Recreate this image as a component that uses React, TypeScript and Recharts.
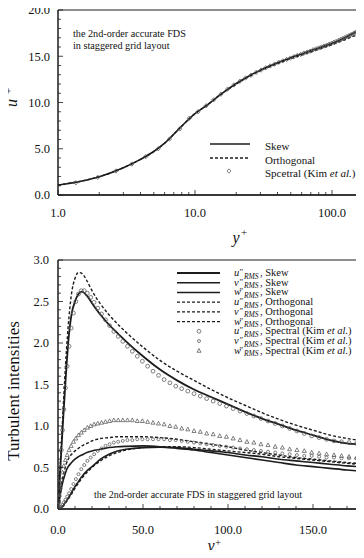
import React from 'react';
import { ComposedChart, Line, Scatter, XAxis, YAxis, ReferenceArea } from 'recharts';

const serif = '"Liberation Serif", "Times New Roman", serif';
const ink = '#1c1c1c';

// ---------- top panel: u+ against y+ (log axis) ----------
const topLineYPlus = [1, 1.5, 2, 3, 4, 5, 6, 8, 10, 12, 15, 20, 25, 30, 40, 50, 60, 80, 100, 120, 140, 160, 180];
const topSkew = [1.08, 1.52, 1.98, 2.95, 3.85, 4.7, 5.6, 7.45, 8.8, 9.62, 10.75, 12.05, 12.9, 13.5, 14.3, 14.85, 15.25, 15.9, 16.4, 16.9, 17.4, 17.8, 18.15];
const topOrtho = [1.08, 1.52, 1.98, 2.95, 3.85, 4.7, 5.6, 7.45, 8.8, 9.62, 10.75, 12.0, 12.85, 13.45, 14.2, 14.75, 15.12, 15.75, 16.25, 16.7, 17.1, 17.38, 17.6];

// Kim et al. grid points (y+) shared by both panels
const kimYPlus = [0.05, 0.22, 0.49, 0.87, 1.35, 1.95, 2.65, 3.46, 4.37, 5.39, 6.52, 7.75, 9.08, 10.52, 12.06, 13.7, 15.44, 17.28, 19.22, 21.25, 23.38, 25.61, 27.93, 30.34, 32.84, 35.42, 38.1, 40.86, 43.7, 46.63, 49.64, 52.72, 55.88, 59.12, 62.43, 65.81, 69.26, 72.77, 76.35, 80, 83.7, 87.46, 91.28, 95.15, 99.07, 103.04, 107.06, 111.12, 115.22, 119.36, 123.54, 127.75, 131.99, 136.26, 140.56, 144.88, 149.23, 153.59, 157.97, 162.36, 166.76, 171.17, 175.58, 180];
const kimUPlus = [0.05, 0.22, 0.49, 0.87, 1.33, 1.91, 2.6, 3.35, 4.15, 5.0, 6.05, 7.15, 8.3, 9.0, 9.65, 10.3, 10.9, 11.45, 11.9, 12.3, 12.65, 12.95, 13.25, 13.5, 13.75, 13.95, 14.15, 14.35, 14.5, 14.65, 14.8, 14.95, 15.1, 15.2, 15.35, 15.45, 15.55, 15.7, 15.8, 15.9, 16.0, 16.1, 16.2, 16.3, 16.4, 16.5, 16.6, 16.7, 16.8, 16.9, 17.0, 17.1, 17.2, 17.3, 17.4, 17.5, 17.6, 17.65, 17.75, 17.85, 17.9, 18.0, 18.05, 18.1];

const topXTicks = [1, 2, 3, 4, 5, 6, 7, 8, 9, 10, 20, 30, 40, 50, 60, 70, 80, 90, 100];
const topXMajor = [1, 10, 100];
const topYTicks = [0, 1, 2, 3, 4, 5, 6, 7, 8, 9, 10, 11, 12, 13, 14, 15, 16, 17, 18, 19, 20];
const topYMajor = [0, 5, 10, 15, 20];

// ---------- bottom panel: turbulent intensities ----------
const lineYPlus = [0, 1, 2, 3, 4, 5, 6, 8, 10, 12, 14, 17, 20, 25, 30, 35, 40, 50, 60, 70, 80, 90, 100, 110, 120, 130, 140, 150, 160, 170, 176];
const uSkew = [0, 0.36, 0.72, 1.07, 1.4, 1.72, 2.0, 2.35, 2.5, 2.59, 2.62, 2.57, 2.48, 2.34, 2.22, 2.12, 2.02, 1.84, 1.68, 1.55, 1.44, 1.35, 1.26, 1.17, 1.09, 1.02, 0.95, 0.89, 0.83, 0.79, 0.78];
const vSkew = [0, 0.01, 0.02, 0.04, 0.07, 0.1, 0.13, 0.2, 0.27, 0.33, 0.39, 0.46, 0.51, 0.6, 0.66, 0.7, 0.72, 0.74, 0.745, 0.74, 0.72, 0.7, 0.68, 0.65, 0.63, 0.6, 0.58, 0.56, 0.54, 0.52, 0.51];
const wSkew = [0, 0.13, 0.25, 0.34, 0.41, 0.47, 0.51, 0.56, 0.6, 0.63, 0.65, 0.68, 0.7, 0.72, 0.74, 0.75, 0.755, 0.76, 0.75, 0.73, 0.71, 0.68, 0.65, 0.62, 0.59, 0.56, 0.53, 0.51, 0.49, 0.47, 0.46];
const uOrtho = [0, 0.4, 0.8, 1.2, 1.58, 1.92, 2.2, 2.6, 2.78, 2.85, 2.84, 2.75, 2.63, 2.47, 2.34, 2.23, 2.13, 1.95, 1.79, 1.66, 1.55, 1.44, 1.34, 1.25, 1.16, 1.08, 1.01, 0.95, 0.89, 0.85, 0.83];
const vOrtho = [0, 0.01, 0.02, 0.03, 0.06, 0.09, 0.12, 0.18, 0.25, 0.31, 0.37, 0.44, 0.5, 0.58, 0.64, 0.68, 0.71, 0.74, 0.75, 0.75, 0.74, 0.72, 0.7, 0.68, 0.66, 0.63, 0.61, 0.59, 0.57, 0.55, 0.54];
const wOrtho = [0, 0.15, 0.29, 0.4, 0.48, 0.55, 0.6, 0.66, 0.7, 0.73, 0.76, 0.79, 0.82, 0.85, 0.86, 0.87, 0.87, 0.87, 0.86, 0.84, 0.81, 0.78, 0.75, 0.71, 0.68, 0.65, 0.62, 0.6, 0.58, 0.56, 0.55];

const kimU = [0.02, 0.08, 0.18, 0.32, 0.5, 0.71, 0.95, 1.2, 1.46, 1.72, 1.96, 2.18, 2.36, 2.5, 2.59, 2.63, 2.63, 2.6, 2.55, 2.49, 2.42, 2.35, 2.28, 2.21, 2.14, 2.08, 2.02, 1.96, 1.9, 1.84, 1.78, 1.72, 1.66, 1.61, 1.56, 1.52, 1.48, 1.45, 1.42, 1.39, 1.36, 1.33, 1.3, 1.27, 1.24, 1.21, 1.18, 1.15, 1.12, 1.09, 1.06, 1.03, 1.0, 0.97, 0.94, 0.91, 0.88, 0.86, 0.84, 0.82, 0.81, 0.8, 0.79, 0.79];
const kimV = [0, 0, 0.01, 0.01, 0.02, 0.03, 0.05, 0.08, 0.11, 0.15, 0.19, 0.24, 0.3, 0.36, 0.42, 0.48, 0.53, 0.58, 0.62, 0.66, 0.7, 0.73, 0.76, 0.78, 0.8, 0.81, 0.82, 0.83, 0.83, 0.84, 0.84, 0.84, 0.84, 0.84, 0.84, 0.83, 0.83, 0.82, 0.81, 0.8, 0.79, 0.78, 0.77, 0.76, 0.75, 0.74, 0.73, 0.72, 0.71, 0.7, 0.69, 0.68, 0.67, 0.66, 0.65, 0.64, 0.64, 0.63, 0.62, 0.62, 0.61, 0.61, 0.61, 0.61];
const kimW = [0.01, 0.04, 0.09, 0.17, 0.26, 0.35, 0.44, 0.52, 0.59, 0.65, 0.71, 0.76, 0.81, 0.85, 0.89, 0.92, 0.95, 0.98, 1.0, 1.02, 1.03, 1.04, 1.05, 1.06, 1.07, 1.07, 1.07, 1.07, 1.07, 1.06, 1.06, 1.05, 1.04, 1.03, 1.02, 1.0, 0.99, 0.97, 0.96, 0.94, 0.93, 0.91, 0.9, 0.88, 0.87, 0.85, 0.83, 0.81, 0.8, 0.78, 0.77, 0.75, 0.74, 0.72, 0.71, 0.7, 0.68, 0.67, 0.66, 0.65, 0.64, 0.63, 0.62, 0.62];

const botXTicks = [0, 10, 20, 30, 40, 50, 60, 70, 80, 90, 100, 110, 120, 130, 140, 150, 160, 170];
const botXMajor = [0, 50, 100, 150];
const botYTicks = [0, 0.1, 0.2, 0.3, 0.4, 0.5, 0.6, 0.7, 0.8, 0.9, 1, 1.1, 1.2, 1.3, 1.4, 1.5, 1.6, 1.7, 1.8, 1.9, 2, 2.1, 2.2, 2.3, 2.4, 2.5, 2.6, 2.7, 2.8, 2.9, 3];
const botYMajor = [0, 0.5, 1, 1.5, 2, 2.5, 3];

const pairs = (xs: number[], ys: number[]) => xs.map((x, i) => ({ x, y: ys[i] }));

const topKim = pairs(kimYPlus, kimUPlus).filter((p) => p.x >= 1);

// ticks drawn inward from the axis line
const makeXTick = (majors: number[], dy: number) => (props: any) => {
  const { x, y, payload } = props;
  const major = majors.includes(payload.value);
  return (
    <g>
      <line x1={x} x2={x} y1={y} y2={y - (major ? 5 : 3)} stroke={ink} strokeWidth={0.8} />
      {major && (
        <text x={x} y={y + dy} textAnchor="middle" fontSize={12.5} fontFamily={serif} fill="#111">
          {payload.value.toFixed(1)}
        </text>
      )}
    </g>
  );
};

const makeYTick = (majors: number[], dx: number) => (props: any) => {
  const { x, y, payload } = props;
  const major = majors.includes(payload.value);
  return (
    <g>
      <line x1={x} x2={x + (major ? 5 : 3)} y1={y} y2={y} stroke={ink} strokeWidth={0.8} />
      {major && (
        <text x={x - dx} y={y} dy="0.35em" textAnchor="end" fontSize={12.5} fontFamily={serif} fill="#111">
          {payload.value.toFixed(1)}
        </text>
      )}
    </g>
  );
};

const Ring = (r: number) => (p: any) => (
  <circle cx={p.cx} cy={p.cy} r={r} fill="none" stroke="#555" strokeWidth={0.75} />
);
const Tri = (p: any) => (
  <path d={`M${p.cx},${p.cy - 2.2} L${p.cx + 2},${p.cy + 1.5} L${p.cx - 2},${p.cy + 1.5} Z`} fill="none" stroke="#555" strokeWidth={0.75} />
);
const Diamond = (p: any) => (
  <path d={`M${p.cx},${p.cy - 2.2} L${p.cx + 2},${p.cy} L${p.cx},${p.cy + 2.2} L${p.cx - 2},${p.cy} Z`} fill="none" stroke="#555" strokeWidth={0.75} />
);

const legendRows = [
  { c: 'u', name: 'Skew', dash: '', w: 2.2 },
  { c: 'v', name: 'Skew', dash: '', w: 1.5 },
  { c: 'w', name: 'Skew', dash: '', w: 1.5 },
  { c: 'u', name: 'Orthogonal', dash: '3 2', w: 1.4 },
  { c: 'v', name: 'Orthogonal', dash: '3 2', w: 1.4 },
  { c: 'w', name: 'Orthogonal', dash: '3 2', w: 1.4 },
  { c: 'u', name: 'Spectral', dash: 'm', w: 0 },
  { c: 'v', name: 'Spectral', dash: 'm', w: 0 },
  { c: 'w', name: 'Spectral', dash: 'm', w: 0 },
];

export default function App() {
  return (
    <div style={{ position: 'relative', width: 364, height: 558, margin: -8, overflow: 'hidden', background: '#fff', fontFamily: serif }}>
      <div style={{ position: 'absolute', left: 0, top: 0 }}>
        <ComposedChart width={367} height={230} margin={{ top: 10, right: 0, bottom: 0, left: 0 }}>
          <XAxis dataKey="x" type="number" scale="log" domain={[1, 180]} ticks={topXTicks} interval={0}
            tick={makeXTick(topXMajor, 22)} tickLine={false} tickSize={0} tickMargin={0} height={35}
            axisLine={{ stroke: ink, strokeWidth: 1.3 }} allowDataOverflow />
          <YAxis type="number" domain={[0, 20]} ticks={topYTicks} interval={0} width={58}
            tick={makeYTick(topYMajor, 8)} tickLine={false} tickSize={0} tickMargin={0}
            axisLine={{ stroke: ink }} allowDataOverflow />
          <ReferenceArea x1={1} x2={180} y1={0} y2={20} fill="none" stroke={ink} strokeWidth={1} ifOverflow="visible" />
          <Line data={pairs(topLineYPlus, topOrtho)} dataKey="y" type="monotone" stroke={ink} strokeWidth={1.4}
            strokeDasharray="3 2" dot={false} isAnimationActive={false} />
          <Line data={pairs(topLineYPlus, topSkew)} dataKey="y" type="monotone" stroke={ink} strokeWidth={1.6}
            dot={false} isAnimationActive={false} />
          <Scatter data={topKim} dataKey="y" shape={Diamond} isAnimationActive={false} />
        </ComposedChart>
      </div>

      <div style={{ position: 'absolute', left: 0, top: 250 }}>
        <ComposedChart width={364} height={299} margin={{ top: 10, right: 0, bottom: 0, left: 0 }}>
          <XAxis dataKey="x" type="number" domain={[0, 180]} ticks={botXTicks} interval={0}
            tick={makeXTick(botXMajor, 25)} tickLine={false} tickSize={0} tickMargin={0} height={40}
            axisLine={{ stroke: ink, strokeWidth: 1.3 }} allowDataOverflow />
          <YAxis type="number" domain={[0, 3]} ticks={botYTicks} interval={0} width={58}
            tick={makeYTick(botYMajor, 9)} tickLine={false} tickSize={0} tickMargin={0}
            axisLine={{ stroke: ink }} allowDataOverflow />
          <ReferenceArea x1={0} x2={180} y1={0} y2={3} fill="none" stroke={ink} strokeWidth={1} ifOverflow="visible" />
          <Scatter data={pairs(kimYPlus, kimU)} dataKey="y" shape={Ring(1.9)} isAnimationActive={false} />
          <Scatter data={pairs(kimYPlus, kimV)} dataKey="y" shape={Ring(1.5)} isAnimationActive={false} />
          <Scatter data={pairs(kimYPlus, kimW)} dataKey="y" shape={Tri} isAnimationActive={false} />
          <Line data={pairs(lineYPlus, uOrtho)} dataKey="y" type="monotone" stroke={ink} strokeWidth={1.4} strokeDasharray="3 2" dot={false} isAnimationActive={false} />
          <Line data={pairs(lineYPlus, vOrtho)} dataKey="y" type="monotone" stroke={ink} strokeWidth={1.4} strokeDasharray="3 2" dot={false} isAnimationActive={false} />
          <Line data={pairs(lineYPlus, wOrtho)} dataKey="y" type="monotone" stroke={ink} strokeWidth={1.4} strokeDasharray="3 2" dot={false} isAnimationActive={false} />
          <Line data={pairs(lineYPlus, uSkew)} dataKey="y" type="monotone" stroke={ink} strokeWidth={1.8} dot={false} isAnimationActive={false} />
          <Line data={pairs(lineYPlus, vSkew)} dataKey="y" type="monotone" stroke={ink} strokeWidth={1.6} dot={false} isAnimationActive={false} />
          <Line data={pairs(lineYPlus, wSkew)} dataKey="y" type="monotone" stroke={ink} strokeWidth={1.6} dot={false} isAnimationActive={false} />
        </ComposedChart>
      </div>

      <svg width={364} height={558} style={{ position: 'absolute', left: 0, top: 0, pointerEvents: 'none' }} fontFamily={serif} fill="#111">
        {/* top panel texts */}
        <text transform="translate(17,103) rotate(-90)" textAnchor="middle" fontSize={16} fontStyle="italic">u</text>
        <text transform="translate(12,91) rotate(-90)" textAnchor="middle" fontSize={11}>+</text>
        <text x={236} y={243} textAnchor="middle" fontSize={16} fontStyle="italic">y</text>
        <text x={244} y={236} textAnchor="middle" fontSize={11}>+</text>
        <text x={73} y={37} fontSize={10.2}>the 2nd-order accurate FDS</text>
        <text x={73} y={49} fontSize={10.2}>in staggered grid layout</text>

        <line x1={210} x2={250} y1={144} y2={144} stroke={ink} strokeWidth={1.6} />
        <text x={265} y={150} fontSize={11}>Skew</text>
        <line x1={210} x2={250} y1={158} y2={158} stroke={ink} strokeWidth={1.4} strokeDasharray="3 2" />
        <text x={265} y={164} fontSize={11}>Orthogonal</text>
        <path d="M229,168.8 L231,171 L229,173.2 L227,171 Z" fill="none" stroke="#555" strokeWidth={0.75} />
        <text x={265} y={177} fontSize={11}>
          Spcetral (Kim <tspan fontStyle="italic">et al.</tspan>)
        </text>

        {/* bottom panel texts */}
        <text transform="translate(19,391) rotate(-90)" textAnchor="middle" fontSize={17}>Turbulent intensities</text>
        <text x={211} y={551} textAnchor="middle" fontSize={16} fontStyle="italic">y</text>
        <text x={218} y={546} textAnchor="middle" fontSize={10}>+</text>
        <text x={198} y={498} textAnchor="middle" fontSize={10}>the 2nd-order accurate FDS in staggered grid layout</text>

        {legendRows.map((r, i) => {
          const cy = 273 + i * 9.72;
          return (
            <g key={i}>
              {r.dash !== 'm' && (
                <line x1={177} x2={220} y1={cy} y2={cy} stroke={ink} strokeWidth={r.w} strokeDasharray={r.dash || undefined} />
              )}
              {r.dash === 'm' && r.c === 'u' && <circle cx={199} cy={cy} r={1.9} fill="none" stroke="#555" strokeWidth={0.75} />}
              {r.dash === 'm' && r.c === 'v' && <circle cx={199} cy={cy} r={1.5} fill="none" stroke="#555" strokeWidth={0.75} />}
              {r.dash === 'm' && r.c === 'w' && (
                <path d={`M199,${cy - 2.2} L201,${cy + 1.5} L197,${cy + 1.5} Z`} fill="none" stroke="#555" strokeWidth={0.75} />
              )}
              <text x={234} y={cy + 3} fontSize={10.5} fontStyle="italic">{r.c}</text>
              <text x={239.5} y={cy + 2} fontSize={9}>″</text>
              <text x={244} y={cy + 5.5} fontSize={7.5} fontStyle="italic">RMS</text>
              <text x={260} y={cy + 3} fontSize={10.5}>
                , {r.name}
                {r.dash === 'm' && (
                  <>
                    {' (Kim '}
                    <tspan fontStyle="italic">et al.</tspan>
                    {')'}
                  </>
                )}
              </text>
            </g>
          );
        })}
      </svg>
    </div>
  );
}
